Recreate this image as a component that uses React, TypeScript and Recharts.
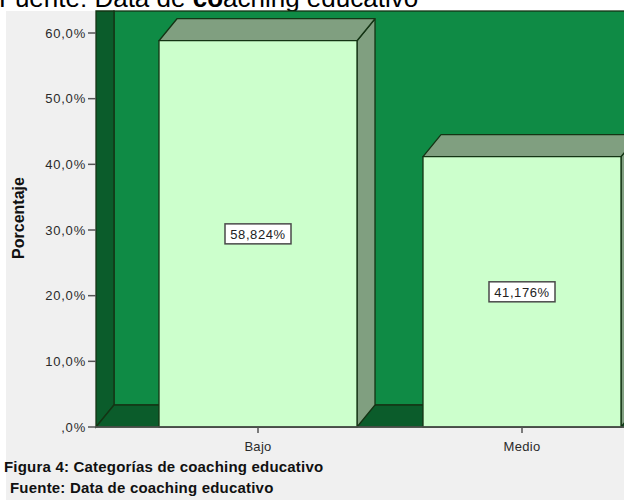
import { BarChart, Bar, XAxis, YAxis, LabelList } from "recharts";

const categorias = ["Bajo", "Medio"];
const porcentajes = [58.824, 41.176];
const yTicks = [0, 10, 20, 30, 40, 50, 60];

const data = categorias.map((c, i) => ({ categoria: c, valor: porcentajes[i] }));

// profundidad del efecto 3D (estilo SPSS)
const DX = 18;
const DY = 22;
const PLOT_LEFT = 96;
const PLOT_TOP = 33;
const PLOT_BOTTOM = 427;
const W = 624;
const H = 500;

const C = {
  wall: "#0f8b45",
  dark: "#0b5c2b",
  line: "#143414",
  face: "#ccffcc",
  side: "#809f80",
  page: "#f0f0f0",
  text: "#2a2a2a",
};

const FONT = "Arial, 'Liberation Sans', sans-serif";

function fmt(v: number, dec: number) {
  const s = v.toFixed(dec).replace(".", ",");
  return s.startsWith("0,") ? s.slice(1) : s;
}

function Box3D(props: any) {
  const { x, y, width, height } = props;
  const r = x + width;
  const b = y + height;
  return (
    <g stroke={C.line} strokeWidth={1.3} strokeLinejoin="round">
      <polygon points={`${r},${y} ${r + DX},${y - DY} ${r + DX},${b - DY} ${r},${b}`} fill={C.side} />
      <polygon points={`${x},${y} ${x + DX},${y - DY} ${r + DX},${y - DY} ${r},${y}`} fill={C.side} />
      <rect x={x} y={y} width={width} height={height} fill={C.face} />
    </g>
  );
}

function ValueBox(props: any) {
  const { x, y, width, height, value } = props;
  const cx = x + width / 2;
  const cy = y + height / 2;
  const w = 66;
  const h = 20;
  return (
    <g>
      <rect x={cx - w / 2} y={cy - h / 2} width={w} height={h} fill="#ffffff" stroke="#4a4a4a" strokeWidth={1.5} />
      <text
        x={cx}
        y={cy + 5}
        textAnchor="middle"
        fontFamily={FONT}
        fontSize={13}
        letterSpacing={0.6}
        fill="#222"
      >
        {fmt(value, 3)}%
      </text>
    </g>
  );
}

function Fondo() {
  const backTop = PLOT_TOP - DY;
  const backLeft = PLOT_LEFT + DX;
  const backBottom = PLOT_BOTTOM - DY;
  return (
    <svg width={W} height={H} style={{ position: "absolute", left: 0, top: 0 }}>
      <rect x={0} y={0} width={W} height={H} fill="#ffffff" />
      <rect x={6} y={backTop} width={W} height={H} fill={C.page} />
      <text x={-1} y={7} fontFamily={FONT} fontSize={26} fill="#000">
        Fuente: Data de <tspan fontWeight="bold">co</tspan>aching educativo
      </text>
      {/* pared del fondo */}
      <rect x={backLeft} y={backTop} width={W} height={backBottom - backTop} fill={C.wall} stroke={C.line} strokeWidth={1.3} />
      {/* pared izquierda */}
      <polygon
        points={`${PLOT_LEFT},${backTop} ${backLeft},${backTop} ${backLeft},${backBottom} ${PLOT_LEFT},${PLOT_BOTTOM}`}
        fill={C.dark}
        stroke={C.line}
        strokeWidth={1.3}
      />
      {/* piso */}
      <polygon
        points={`${PLOT_LEFT},${PLOT_BOTTOM} ${backLeft},${backBottom} ${W + 20},${backBottom} ${W + 20},${PLOT_BOTTOM}`}
        fill={C.dark}
        stroke={C.line}
        strokeWidth={1.3}
      />
      <text
        transform={`translate(24, 218) rotate(-90)`}
        textAnchor="middle"
        fontFamily={FONT}
        fontSize={16}
        fontWeight="bold"
        fill="#111"
      >
        Porcentaje
      </text>
      <text x={4} y={472} fontFamily={FONT} fontSize={15} fontWeight="bold" fill="#111" letterSpacing={0.2}>
        Figura 4: Categorías de coaching educativo
      </text>
      <text x={10} y={493} fontFamily={FONT} fontSize={15} fontWeight="bold" fill="#111" letterSpacing={0.2}>
        Fuente: Data de coaching educativo
      </text>
    </svg>
  );
}

export default function App() {
  return (
    <div style={{ position: "absolute", left: 0, top: 0, width: W, height: H, overflow: "hidden" }}>
      <Fondo />
      <div style={{ position: "absolute", left: 0, top: 0 }}>
        <BarChart
          width={660}
          height={H}
          data={data}
          margin={{ top: PLOT_TOP, right: 6, bottom: 0, left: 0 }}
          barSize={198}
        >
          <XAxis
            dataKey="categoria"
            height={H - PLOT_BOTTOM}
            padding={{ left: 30, right: 0 }}
            axisLine={{ stroke: "#555", strokeWidth: 1.5 }}
            tickLine={{ stroke: "#555", strokeWidth: 1.5 }}
            tickSize={6}
            tickMargin={9}
            tick={{ fill: C.text, fontSize: 13, fontFamily: FONT, letterSpacing: 0.3 }}
          />
          <YAxis
            width={PLOT_LEFT}
            domain={[0, 60]}
            ticks={yTicks}
            axisLine={false}
            tickLine={{ stroke: "#555", strokeWidth: 1.5 }}
            tickSize={8}
            tickMargin={2}
            tickFormatter={(v: number) => `${fmt(v, 1)}%`}
            tick={{ fill: C.text, fontSize: 13, fontFamily: FONT, letterSpacing: 0.8 }}
          />
          <Bar dataKey="valor" shape={<Box3D />} isAnimationActive={false}>
            <LabelList dataKey="valor" content={<ValueBox />} />
          </Bar>
        </BarChart>
      </div>
    </div>
  );
}
